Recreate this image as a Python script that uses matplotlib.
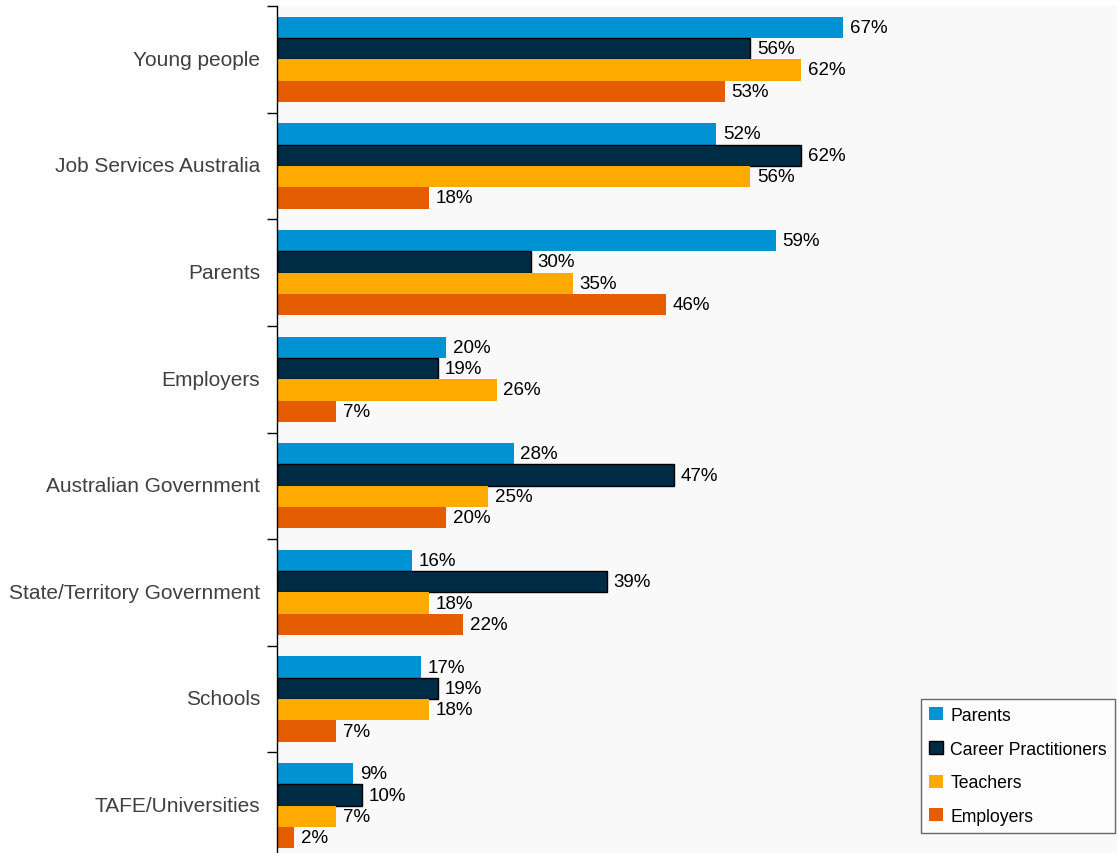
import numpy as np
import matplotlib.pyplot as plt

plt.rcParams['font.family'] = ['Liberation Sans', 'DejaVu Sans']

categories = ["Young people", "Job Services Australia", "Parents", "Employers",
              "Australian Government", "State/Territory Government", "Schools",
              "TAFE/Universities"]
series = ["Parents", "Career Practitioners", "Teachers", "Employers"]
parents = [67, 52, 59, 20, 28, 16, 17, 9]
career = [56, 62, 30, 19, 47, 39, 19, 10]
teachers = [62, 56, 35, 26, 25, 18, 18, 7]
employers = [53, 18, 46, 7, 20, 22, 7, 2]

colors = ["#0092d2", "#002b45", "#ffaa00", "#e65c00"]
edges = ["none", "black", "none", "none"]

fig = plt.figure(figsize=(11.17, 8.54), dpi=100)
ax = fig.add_axes([277 / 1117, -6 / 854, 840 / 1117, 853 / 854])
ax.set_facecolor("#f9f9f9")

n = len(categories)
centers = np.arange(n)
h = 0.2
for i, (name, vals) in enumerate(zip(series, [parents, career, teachers, employers])):
    ys = centers - 0.3 + i * h
    ax.barh(ys, vals, height=h, color=colors[i], edgecolor=edges[i],
            linewidth=1.0 if edges[i] != "none" else 0, label=name)
    for y, v in zip(ys, vals):
        ax.text(v + 0.8, y, f"{v}%", va="center", ha="left", fontsize=13.5)

ax.set_xlim(0, 99.4)
ax.set_ylim(n - 0.5, -0.5)

# ticks at group boundaries, labels a touch above group centres
ax.set_yticks(np.arange(n + 1) - 0.5)
ax.set_yticklabels([])
ax.set_yticks(centers - 0.02, minor=True)
ax.set_yticklabels(categories, minor=True, fontsize=15, color="#404040")
ax.tick_params(axis="y", which="major", length=7, width=1, direction="out")
ax.tick_params(axis="y", which="minor", length=0, pad=12)
ax.set_xticks([])

for s in ["top", "right", "bottom"]:
    ax.spines[s].set_visible(False)
ax.spines["left"].set_linewidth(1)

leg = ax.legend(loc="lower right", bbox_to_anchor=(838 / 840, 26 / 853),
                borderaxespad=0, fontsize=12.7, frameon=True, fancybox=False,
                edgecolor="#444444", handlelength=0.75, handleheight=0.75,
                handletextpad=0.45, labelspacing=0.95, borderpad=0.45)
leg.get_frame().set_linewidth(1)

fig.savefig("out.png", dpi=100)
